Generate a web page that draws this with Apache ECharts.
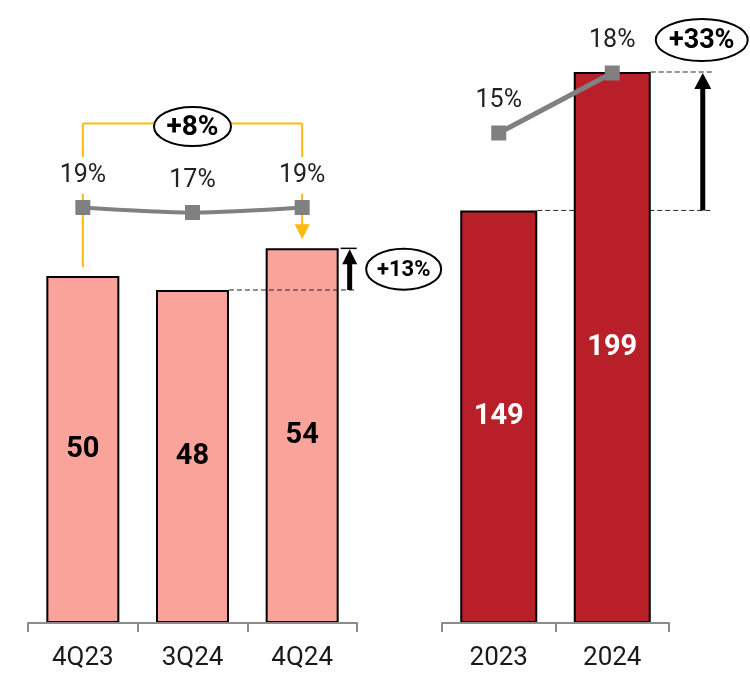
<!DOCTYPE html>
<html><head><meta charset="utf-8">
<script src="https://cdn.jsdelivr.net/npm/echarts@6/dist/echarts.min.js"></script>
<style>html,body{margin:0;padding:0;background:#fff}#c{width:750px;height:676px}</style>
</head><body><div id="c"></div>
<script>
const quarterCategories = ['4Q23', '3Q24', '4Q24'];
const quarterValues = [50, 48, 54];
const quarterMargins = [19, 17, 19];
const yearCategories = ['2023', '2024'];
const yearValues = [149, 199];
const yearMargins = [15, 18];
const changeLabels = ['+8%', '+13%', '+33%'];

const FONT = 'Roboto, "DejaVu Sans", sans-serif';
const axisGray = '#8c8c8c';
const chart = echarts.init(document.getElementById('c'), null, {renderer: 'canvas'});

function catAxis(grid, data, show) {
  return {
    type: 'category', gridIndex: grid, data: data, show: show, z: 5,
    axisLine: {show: true, lineStyle: {color: axisGray, width: 2}},
    axisTick: {show: true, length: 9, lineStyle: {color: axisGray, width: 2}},
    axisLabel: {show: true, margin: 22, color: '#1a1a1a', fontSize: 26, fontFamily: FONT, fontWeight: 'normal'}
  };
}
function valAxis(grid, min, max) {
  return {type: 'value', gridIndex: grid, min: min, max: max, show: false, splitLine: {show: false}};
}
const BW_Q = 73, BW_Y = 77;

const option = {
  animation: false,
  backgroundColor: '#fff',
  grid: [
    {left: 28, width: 329, top: 0, height: 623},
    {left: 442, width: 227, top: 0, height: 623},
    {left: 28, width: 329, top: 155, height: 100},
    {left: 442, width: 227, top: 33, height: 200}
  ],
  xAxis: [
    catAxis(0, quarterCategories, true),
    catAxis(1, yearCategories, true),
    catAxis(2, quarterCategories, false),
    catAxis(3, yearCategories, false)
  ],
  yAxis: [valAxis(0, 0, 89.8), valAxis(1, 0, 225), valAxis(2, 0, 40), valAxis(3, 10, 20)],
  series: [
    {
      type: 'bar', xAxisIndex: 0, yAxisIndex: 0, data: quarterValues, barWidth: BW_Q,
      itemStyle: {color: '#FAA39B', borderColor: '#000', borderWidth: 2},
      label: {show: true, position: 'inside', color: '#000', fontSize: 29, fontWeight: 'bold', fontFamily: FONT}
    },
    {
      type: 'bar', xAxisIndex: 1, yAxisIndex: 1, data: yearValues, barWidth: BW_Y,
      itemStyle: {color: '#B81F29', borderColor: '#000', borderWidth: 2},
      label: {show: true, position: 'inside', color: '#fff', fontSize: 29, fontWeight: 'bold', fontFamily: FONT}
    },
    {
      type: 'line', xAxisIndex: 2, yAxisIndex: 2, data: quarterMargins, smooth: 0.3, z: 4,
      symbol: 'rect', symbolSize: 15,
      lineStyle: {color: '#808080', width: 4}, itemStyle: {color: '#808080'},
      label: {show: true, position: 'top', distance: 6, formatter: '{c}%', color: '#222', fontSize: 25,
        fontFamily: FONT, fontWeight: 'normal', backgroundColor: '#fff', padding: [6, 2]}
    },
    {
      type: 'line', xAxisIndex: 3, yAxisIndex: 3, data: yearMargins, z: 4,
      symbol: 'rect', symbolSize: 15,
      lineStyle: {color: '#808080', width: 5}, itemStyle: {color: '#808080'},
      label: {show: true, position: 'top', distance: 6, formatter: '{c}%', color: '#222', fontSize: 25,
        fontFamily: FONT, fontWeight: 'normal', padding: [6, 2]}
    }
  ]
};
chart.setOption(option);

const px = (ai, i, v) => chart.convertToPixel({xAxisIndex: ai, yAxisIndex: ai}, [i, v]);
const q = quarterValues.map((v, i) => px(0, i, v));
const qm = quarterMargins.map((v, i) => px(2, i, v));
const yb = yearValues.map((v, i) => px(1, i, v));

const YEL = '#FDB913';
const els = [];
function line(x1, y1, x2, y2, style, z) {
  els.push({type: 'line', z: z, shape: {x1: x1, y1: y1, x2: x2, y2: y2}, style: style});
}
function tri(pts, fill, z) {
  els.push({type: 'polygon', z: z, shape: {points: pts}, style: {fill: fill}});
}
function bubble(cx, cy, rx, ry, text, size) {
  els.push({type: 'ellipse', z: 20, shape: {cx: cx, cy: cy, rx: rx, ry: ry},
    style: {fill: '#fff', stroke: '#000', lineWidth: 2}});
  els.push({type: 'text', z: 21, style: {text: text, x: cx, y: cy + 1, fill: '#000',
    font: 'bold ' + size + 'px ' + FONT, align: 'center', verticalAlign: 'middle',
    textAlign: 'center', textVerticalAlign: 'middle'}});
}

// +8% bracket
const yStyle = {stroke: YEL, lineWidth: 2};
const topY = qm[0][1] - 84;
line(q[0][0], q[0][1] - 9, q[0][0], topY, yStyle, 1);
line(q[0][0], topY, q[2][0], topY, yStyle, 1);
line(q[2][0], topY, q[2][0], q[2][1] - 22, yStyle, 1);
tri([[q[2][0] - 7.5, q[2][1] - 24], [q[2][0] + 7.5, q[2][1] - 24], [q[2][0], q[2][1] - 9]], YEL, 1);
bubble((q[0][0] + q[2][0]) / 2, topY + 3, 38.5, 19.5, changeLabels[0], 28);

// +13% arrow
const dash = {stroke: '#222', lineWidth: 1, lineDash: [5, 3]};
const xr = q[2][0] + BW_Q / 2;
line(q[1][0] + BW_Q / 2, q[1][1], xr + 18, q[1][1], dash, 10);
line(xr + 2, q[2][1], xr + 18, q[2][1], {stroke: '#000', lineWidth: 1.5}, 10);
const xa = xr + 11;
line(xa, q[1][1], xa, q[2][1] + 14, {stroke: '#000', lineWidth: 5}, 10);
tri([[xa - 7.5, q[2][1] + 16], [xa + 7.5, q[2][1] + 16], [xa, q[2][1] + 1]], '#000', 10);
bubble(xr + 65, (q[1][1] + q[2][1]) / 2, 37.5, 20.5, changeLabels[1], 22);

// +33% arrow
const xr2 = yb[1][0] + BW_Y / 2;
line(yb[0][0] + BW_Y / 2, yb[0][1], xr2 + 61, yb[0][1], dash, 1);
line(xr2, yb[1][1], xr2 + 61, yb[1][1], dash, 1);
const xb = xr2 + 52;
line(xb, yb[0][1], xb, yb[1][1] + 16, {stroke: '#000', lineWidth: 5}, 10);
tri([[xb - 8.5, yb[1][1] + 17], [xb + 8.5, yb[1][1] + 17], [xb, yb[1][1] + 1]], '#000', 10);
bubble(xr2 + 51, yb[1][1] - 32, 46, 21, changeLabels[2], 27);

chart.setOption({graphic: {elements: els}});
</script>
</body></html>
